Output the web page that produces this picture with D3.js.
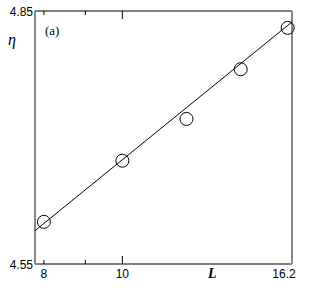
<!DOCTYPE html>
<html>
<head>
<meta charset="utf-8">
<script src="https://cdn.jsdelivr.net/npm/d3@7"></script>
<style>
  body { margin: 0; background: #fff; }
  text { font-family: "Liberation Sans", Arial, sans-serif; }
</style>
</head>
<body>
<div id="graph"></div>
<script>
// data
const sizeL = [8, 10, 12, 14, 16];
const eta = [4.600, 4.6725, 4.722, 4.781, 4.830];
const fitL = [7.8, 16.2];
const fitEta = [4.5895, 4.837];
const xTickVals = [8, 9, 10];
const xTickLabels = ["8", "", "10"];

const W = 309, H = 294;
const margin = { top: 11, right: 17, bottom: 30, left: 35 };
const width = W - margin.left - margin.right;
const height = H - margin.top - margin.bottom;

const svg = d3.select("#graph")
  .append("svg")
  .attr("width", W)
  .attr("height", H);

const g = svg.append("g")
  .attr("transform", "translate(" + margin.left + "," + margin.top + ")");

const x = d3.scaleLog().domain([7.8, 16.2]).range([0, width]);
const y = d3.scaleLinear().domain([4.55, 4.85]).range([height, 0]);

// frame: top/bottom black, left/right grey
g.append("line").attr("x1", 0).attr("x2", width).attr("y1", height).attr("y2", height)
  .attr("stroke", "#000").attr("stroke-width", 1.2);
g.append("line").attr("x1", 0).attr("x2", width).attr("y1", 0).attr("y2", 0)
  .attr("stroke", "#000").attr("stroke-width", 1.2);
g.append("line").attr("x1", 0).attr("x2", 0).attr("y1", 0).attr("y2", height)
  .attr("stroke", "#888").attr("stroke-width", 2);
g.append("line").attr("x1", width).attr("x2", width).attr("y1", 0).attr("y2", height)
  .attr("stroke", "#888").attr("stroke-width", 2);

// inward ticks
xTickVals.forEach((v, i) => {
  const len = v === 10 ? 8 : 4;
  g.append("line").attr("x1", x(v)).attr("x2", x(v))
    .attr("y1", height).attr("y2", height - len)
    .attr("stroke", "#000").attr("stroke-width", 1);
  g.append("line").attr("x1", x(v)).attr("x2", x(v))
    .attr("y1", 0).attr("y2", len)
    .attr("stroke", "#000").attr("stroke-width", 1);
  if (xTickLabels[i]) {
    g.append("text").attr("x", x(v)).attr("y", height + 14)
      .attr("text-anchor", "middle").style("font-size", "12px")
      .text(xTickLabels[i]);
  }
});
g.append("text").attr("x", width - 8).attr("y", height + 14)
  .attr("text-anchor", "middle").style("font-size", "12px").text("16.2");

// y end labels
g.append("text").attr("x", -2).attr("y", y(4.85) + 5)
  .attr("text-anchor", "end").style("font-size", "12px").text("4.85");
g.append("text").attr("x", -2).attr("y", y(4.55) + 5)
  .attr("text-anchor", "end").style("font-size", "12px").text("4.55");

// axis titles
svg.append("text").attr("x", 208).attr("y", 278)
  .style("font-family", "'Liberation Serif', serif").style("font-style", "italic")
  .style("font-weight", "bold").style("font-size", "14px").text("L");
svg.append("text").attr("x", 8).attr("y", 45)
  .style("font-family", "'Liberation Serif', serif").style("font-style", "italic")
  .style("font-size", "16px").text("η");
svg.append("text").attr("x", 45).attr("y", 35)
  .style("font-family", "'Liberation Serif', serif")
  .style("font-size", "13px").text("(a)");

// fit line
const fit = fitL.map((v, i) => ({ L: v, e: fitEta[i] }));
g.append("path")
  .datum(fit)
  .attr("fill", "none")
  .attr("stroke", "#000")
  .attr("stroke-width", 1)
  .attr("d", d3.line().x(d => x(d.L)).y(d => y(d.e)));

// points
const pts = sizeL.map((v, i) => ({ L: v, e: eta[i] }));
g.selectAll("circle.pt")
  .data(pts)
  .enter().append("circle")
  .attr("class", "pt")
  .attr("cx", d => x(d.L))
  .attr("cy", d => y(d.e))
  .attr("r", 6.5)
  .attr("fill", "none")
  .attr("stroke", "#000")
  .attr("stroke-width", 1);
</script>
</body>
</html>
